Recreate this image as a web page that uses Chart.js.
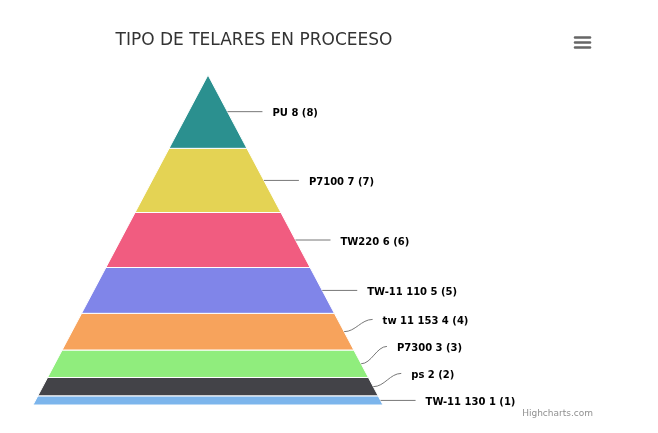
<!DOCTYPE html>
<html><head><meta charset="utf-8">
<script src="https://cdn.jsdelivr.net/npm/chart.js@4/dist/chart.umd.min.js"></script>
<style>html,body{margin:0;padding:0;background:#fff;overflow:hidden}#wrap{width:658px;height:433px;position:relative}</style>
</head><body><div id="wrap"><canvas id="c" width="658" height="433"></canvas></div>
<script>
const chartTitle = 'TIPO DE TELARES EN PROCEESO';
const creditText = 'Highcharts.com';
const categories = ['PU 8', 'P7100 7', 'TW220 6', 'TW-11 110 5', 'tw 11 153 4', 'P7300 3', 'ps 2', 'TW-11 130 1'];
const values = [8, 7, 6, 5, 4, 3, 2, 1];
const colors = ['#2b908f', '#e4d354', '#f15c80', '#8085e9', '#f7a35c', '#90ed7d', '#434348', '#7cb5ec'];

const total = values.reduce((a, b) => a + b, 0);
let acc = 0;
const datasets = values.map((v, i) => {
  const y0 = acc, y1 = acc + v; acc = y1;
  const w0 = y0 / total, w1 = y1 / total;
  return {
    label: categories[i],
    data: [{x: -w0, y: y0}, {x: w0, y: y0}, {x: w1, y: y1}, {x: -w1, y: y1}, {x: -w0, y: y0}],
    backgroundColor: colors[i],
    borderColor: '#ffffff',
    borderWidth: 1,
    fill: 'shape',
    showLine: true,
    pointRadius: 0,
    pointHoverRadius: 0,
    tension: 0
  };
});

const decorPlugin = {
  id: 'decor',
  afterDraw(chart) {
    const ctx = chart.ctx, xs = chart.scales.x, ys = chart.scales.y;
    const edgeAt = py => xs.getPixelForValue(ys.getValueForPixel(py) / total);
    let c = 0;
    const items = values.map((v, i) => {
      const mid = c + v / 2; c += v;
      const sy = ys.getPixelForValue(mid);
      return {i, sy, ly: sy};
    });
    const gap = 27;
    for (let k = items.length - 2; k >= 0; k--) {
      if (items[k].ly > items[k + 1].ly - gap) items[k].ly = items[k + 1].ly - gap;
    }
    ctx.save();
    ctx.strokeStyle = '#777777';
    ctx.lineWidth = 1;
    ctx.font = 'bold 10px "DejaVu Sans"';
    ctx.fillStyle = '#000000';
    ctx.textBaseline = 'middle';
    ctx.textAlign = 'left';
    items.forEach(it => {
      const sx = edgeAt(it.sy);
      const ex = edgeAt(it.ly) + 35;
      const ey = it.ly;
      ctx.beginPath();
      ctx.moveTo(sx, it.sy);
      if (Math.abs(it.sy - ey) < 0.5) {
        ctx.lineTo(ex, ey);
      } else {
        const dx = ex - sx;
        ctx.bezierCurveTo(sx + dx * 0.4, it.sy, sx + dx * 0.6, ey, ex, ey);
      }
      ctx.stroke();
      ctx.fillText(categories[it.i] + ' (' + values[it.i] + ')', edgeAt(it.ly) + 45, ey + 2);
    });
    // title
    ctx.font = '17px "DejaVu Sans"';
    ctx.fillStyle = '#333333';
    ctx.textAlign = 'center';
    ctx.textBaseline = 'alphabetic';
    ctx.fillText(chartTitle, 254, 45);
    // credits
    ctx.font = '9px "DejaVu Sans"';
    ctx.fillStyle = '#909090';
    ctx.textAlign = 'right';
    ctx.fillText(creditText, 593, 416);
    // menu icon
    ctx.strokeStyle = '#666666';
    ctx.lineWidth = 2.5;
    ctx.lineCap = 'round';
    [37.5, 42.5, 47.5].forEach(y => { ctx.beginPath(); ctx.moveTo(575, y); ctx.lineTo(590, y); ctx.stroke(); });
    ctx.restore();
  }
};

new Chart(document.getElementById('c'), {
  type: 'scatter',
  data: {datasets},
  options: {
    responsive: false,
    animation: false,
    devicePixelRatio: 1,
    layout: {padding: {left: 33, right: 275, top: 75, bottom: 28}},
    scales: {
      x: {type: 'linear', min: -1, max: 1, display: false},
      y: {type: 'linear', min: 0, max: total, reverse: true, display: false}
    },
    plugins: {legend: {display: false}, tooltip: {enabled: false}, title: {display: false}}
  },
  plugins: [decorPlugin]
});
</script>
</body></html>
